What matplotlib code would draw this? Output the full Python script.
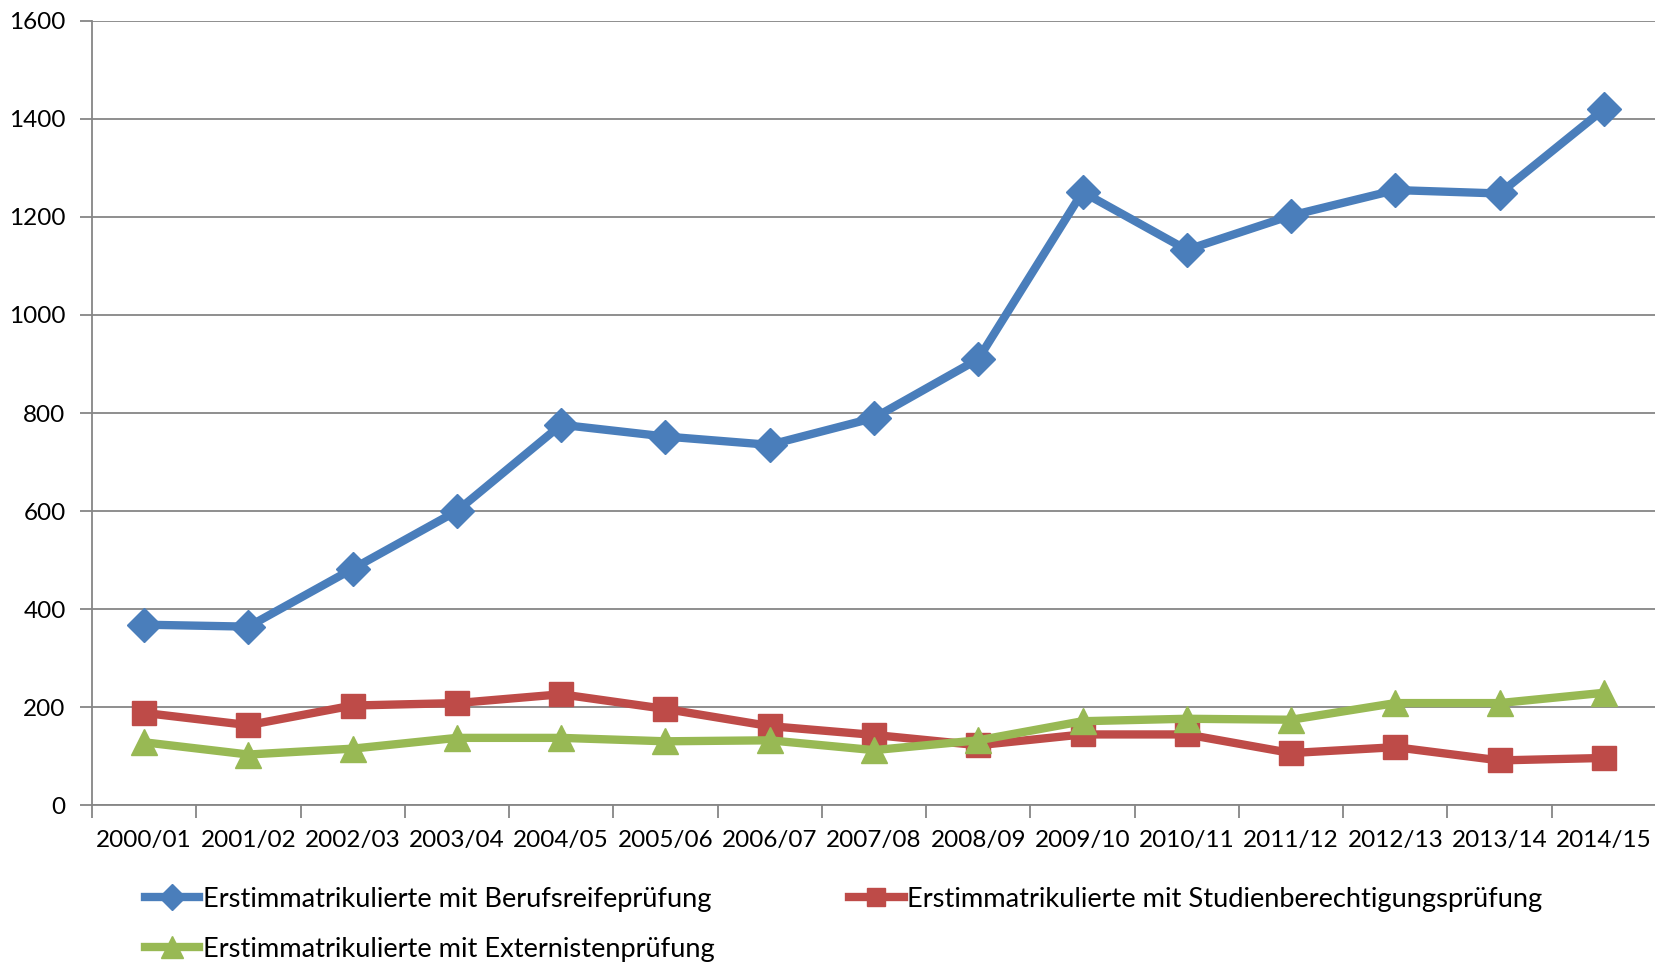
import matplotlib
matplotlib.use("Agg")
from matplotlib import pyplot as plt

plt.rcParams['font.family'] = ['Lato', 'DejaVu Sans']

years = ["2000/01", "2001/02", "2002/03", "2003/04", "2004/05", "2005/06", "2006/07",
         "2007/08", "2008/09", "2009/10", "2010/11", "2011/12", "2012/13", "2013/14", "2014/15"]
berufsreife = [368, 364, 482, 600, 776, 752, 735, 790, 910, 1251, 1133, 1203, 1255, 1248, 1420]
studienberechtigung = [188, 163, 203, 208, 226, 196, 161, 143, 122, 144, 144, 106, 118, 91, 96]
externisten = [128, 103, 115, 137, 137, 130, 132, 112, 132, 171, 176, 174, 208, 208, 229]

labels = ["Erstimmatrikulierte mit Berufsreifeprüfung",
          "Erstimmatrikulierte mit Studienberechtigungsprüfung",
          "Erstimmatrikulierte mit Externistenprüfung"]

BLUE = "#4A7EBB"
RED = "#BE4B48"
GREEN = "#98B954"
GRID = "#868686"
FS = 17.5
LEG_FS = 19.6

fig = plt.figure(figsize=(16.56, 9.63), dpi=100)
ax = fig.add_axes([92 / 1656, 1 - 805 / 963, 1564 / 1656, 784 / 963])

x = list(range(len(years)))
l1, = ax.plot(x, berufsreife, color=BLUE, lw=6, marker="D", ms=17, label=labels[0], zorder=3)
l2, = ax.plot(x, studienberechtigung, color=RED, lw=6, marker="s", ms=17, label=labels[1], zorder=3)
l3, = ax.plot(x, externisten, color=GREEN, lw=6, marker="^", ms=19, label=labels[2], zorder=4)

ax.set_xlim(-0.5, len(years) - 0.5)
ax.set_ylim(0, 1600)
ax.set_yticks(range(0, 1601, 200))
ax.yaxis.grid(True, color=GRID, lw=1.3)
ax.set_axisbelow(True)

ax.set_xticks(x)
ax.set_xticklabels(years, fontsize=FS)
ax.set_xticks([i - 0.5 for i in range(len(years) + 1)], minor=True)
ax.tick_params(axis="x", which="major", length=0, pad=18)
ax.tick_params(axis="x", which="minor", length=9, width=1.3, color=GRID)
ax.tick_params(axis="y", length=9, width=1.3, color=GRID, labelsize=FS, pad=10)

for side in ["top", "right"]:
    ax.spines[side].set_visible(False)
for side in ["left", "bottom"]:
    ax.spines[side].set_color(GRID)
    ax.spines[side].set_linewidth(1.3)

# two columns: blue + green on the left, red on the right
leg = fig.legend([l1, l3, l2], [labels[0], labels[2], labels[1]], ncol=2,
                 loc="upper left", bbox_to_anchor=(145 / 1656, 1 - 887 / 963),
                 frameon=False, fontsize=LEG_FS, handlelength=2.0, handletextpad=0.12,
                 columnspacing=4.95, labelspacing=0.9, borderpad=0, borderaxespad=0,
                 markerscale=0.8)

plt.savefig("out.png", dpi=100)
